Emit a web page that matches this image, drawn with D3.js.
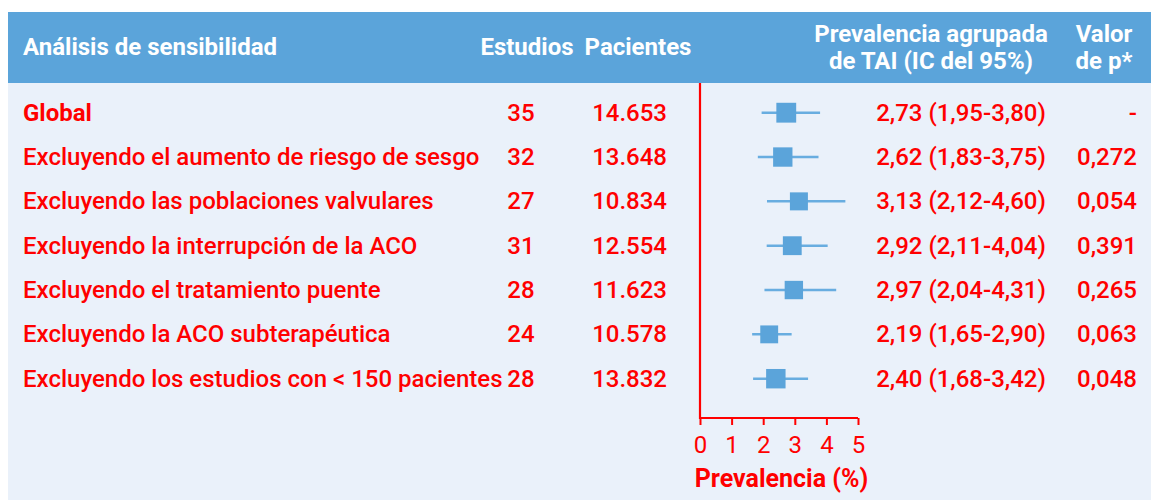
<!DOCTYPE html>
<html><head><meta charset="utf-8">
<script src="https://cdn.jsdelivr.net/npm/d3@7"></script>
<style>
html,body{margin:0;padding:0;background:#fff;}
svg text{font-family:Roboto,"Noto Sans",sans-serif;}
</style></head>
<body><svg id="c" width="1156" height="500"></svg>
<script>
const categories = [
  "Global",
  "Excluyendo el aumento de riesgo de sesgo",
  "Excluyendo las poblaciones valvulares",
  "Excluyendo la interrupción de la ACO",
  "Excluyendo el tratamiento puente",
  "Excluyendo la ACO subterapéutica",
  "Excluyendo los estudios con < 150 pacientes"
];
const estudios = [35, 32, 27, 31, 28, 24, 28];
const pacientes = [14653, 13648, 10834, 12554, 11623, 10578, 13832];
const prevalencia = [2.73, 2.62, 3.13, 2.92, 2.97, 2.19, 2.40];
const icLow = [1.95, 1.83, 2.12, 2.11, 2.04, 1.65, 1.68];
const icHigh = [3.80, 3.75, 4.60, 4.04, 4.31, 2.90, 3.42];
const pValues = ["-", "0,272", "0,054", "0,391", "0,265", "0,063", "0,048"];
const xTicks = [0, 1, 2, 3, 4, 5];

const RED = "#ff0000", BLUE = "#5ba4da", LIGHT = "#eaf1fa";
const FS = 24;
const svg = d3.select("#c");
const fmt2 = v => v.toFixed(2).replace(".", ",");
const fmtPac = d3.formatLocale({decimal: ",", thousands: ".", grouping: [3], currency: ["", ""]}).format(",d");

// panel
svg.append("rect").attr("x", 8).attr("y", 12).attr("width", 1143).attr("height", 488).attr("fill", LIGHT);
svg.append("rect").attr("x", 8).attr("y", 12).attr("width", 1143).attr("height", 71).attr("fill", BLUE);

// header
const hdr = svg.append("g").attr("fill", "#fff").attr("font-weight", 700).attr("font-size", FS);
hdr.append("text").attr("x", 23).attr("y", 55).text("Análisis de sensibilidad");
hdr.append("text").attr("x", 527).attr("y", 55).attr("text-anchor", "middle").text("Estudios");
hdr.append("text").attr("x", 638).attr("y", 55).attr("text-anchor", "middle").text("Pacientes");
hdr.append("text").attr("x", 931).attr("y", 42).attr("text-anchor", "middle").text("Prevalencia agrupada");
hdr.append("text").attr("x", 931).attr("y", 69).attr("text-anchor", "middle").text("de TAI (IC del 95%)");
hdr.append("text").attr("x", 1104).attr("y", 42).attr("text-anchor", "middle").text("Valor");
hdr.append("text").attr("x", 1104).attr("y", 69).attr("text-anchor", "middle").text("de p*");

const x = d3.scaleLinear().domain([0, 5]).range([700, 858]);
const y = d3.scalePoint().domain(categories).range([112.7, 378.7]);
const size = d3.scaleLinear().domain([10000, 15000]).range([17.6, 20]);

const rows = svg.append("g").attr("fill", RED).attr("font-size", FS).attr("font-weight", 500);
categories.forEach((c, i) => {
  const yy = y(c) + 7.8;
  rows.append("text").attr("x", 23).attr("y", yy).attr("font-weight", i === 0 ? 700 : 500).text(c);
  rows.append("text").attr("x", 521).attr("y", yy).attr("text-anchor", "middle").text(estudios[i]);
  rows.append("text").attr("x", 667).attr("y", yy).attr("text-anchor", "end").text(fmtPac(pacientes[i]));
  rows.append("text").attr("x", 961).attr("y", yy).attr("text-anchor", "middle")
    .text(`${fmt2(prevalencia[i])} (${fmt2(icLow[i])}-${fmt2(icHigh[i])})`);
  rows.append("text").attr("x", 1137).attr("y", yy).attr("text-anchor", "end").text(pValues[i]);
});

// forest marks
const marks = svg.append("g");
categories.forEach((c, i) => {
  marks.append("line").attr("x1", x(icLow[i])).attr("x2", x(icHigh[i]))
    .attr("y1", y(c)).attr("y2", y(c)).attr("stroke", "#68ade0").attr("stroke-width", 2.5);
  const s = size(pacientes[i]);
  marks.append("rect").attr("x", x(prevalencia[i]) - s / 2).attr("y", y(c) - s / 2)
    .attr("width", s).attr("height", s).attr("fill", BLUE);
});

// axes
const ax = svg.append("g").attr("transform", "translate(0,418)")
  .call(d3.axisBottom(x).tickValues(xTicks).tickSize(7).tickPadding(11).tickFormat(d => d));
ax.select(".domain").attr("stroke", RED).attr("stroke-width", 2.2).attr("d", `M${x(0)},0H${x(5)}`);
ax.selectAll(".tick line").attr("stroke", RED).attr("stroke-width", 2);
ax.selectAll(".tick text").attr("fill", RED).attr("font-size", FS).attr("font-family", "Roboto, sans-serif");
svg.append("line").attr("x1", x(0)).attr("x2", x(0)).attr("y1", 83).attr("y2", 419)
  .attr("stroke", RED).attr("stroke-width", 2.2);
svg.append("text").attr("x", 781.5).attr("y", 487).attr("text-anchor", "middle").attr("fill", RED)
  .attr("font-size", 25).attr("font-weight", 700).text("Prevalencia (%)");
</script></body></html>
